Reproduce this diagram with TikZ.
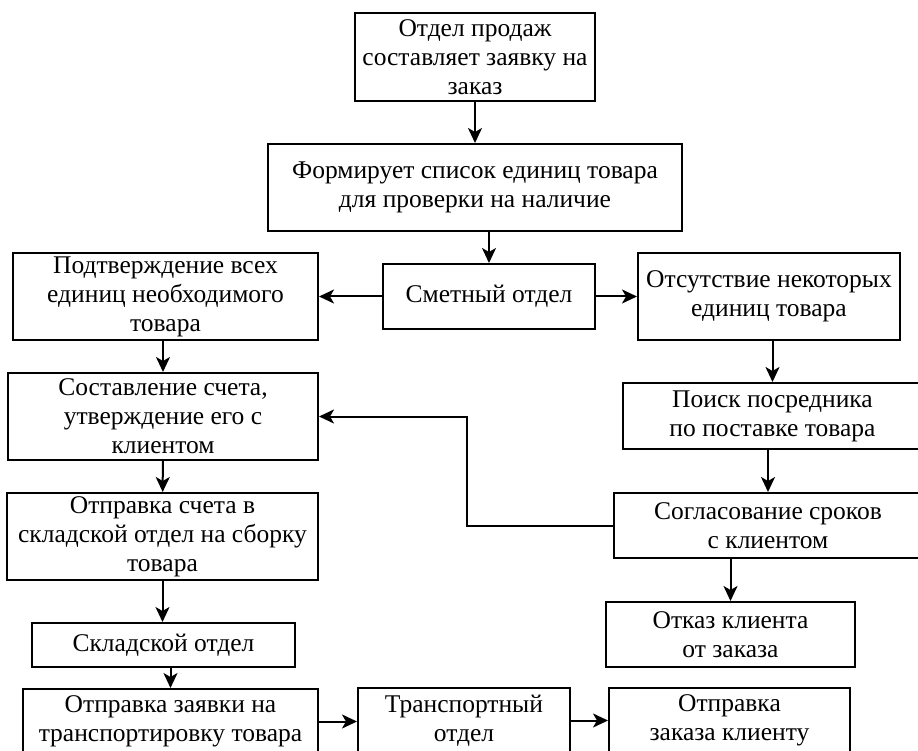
\documentclass[tikz,border=0pt]{standalone}
\usepackage{fontspec}
\setmainfont{Liberation Serif}
\usetikzlibrary{arrows.meta}

\begin{document}
\begin{tikzpicture}[x=1pt,y=-1pt,
  box/.style={draw, line width=2pt, rectangle, align=center, inner sep=0pt,
    font=\fontsize{25.5}{29}\selectfont},
  arr/.style={line width=2pt, -{Stealth[length=15pt,width=14pt,inset=4pt]}}]
  \useasboundingbox (0,0) rectangle (918,751);
  \clip (0,0) rectangle (918,751);
  % top of the chain
  \node[box, minimum width=240pt, minimum height=88pt] (zakaz) at (475,57) {Отдел продаж\\составляет заявку на\\заказ};
  \node[box, minimum width=414pt, minimum height=87pt] (spisok) at (475,187.5) {Формирует список единиц товара\\для проверки на наличие};
  \node[box, minimum width=212pt, minimum height=65pt] (smeta) at (489,296.5) {Сметный отдел};
  \node[box, minimum width=305pt, minimum height=87pt] (podtv) at (165.5,296.5) {Подтверждение всех\\единиц необходимого\\товара};
  \node[box, minimum width=262pt, minimum height=87pt] (otsut) at (769,296.5) {Отсутствие некоторых\\единиц товара};
  % left column
  \node[box, minimum width=310pt, minimum height=87pt] (schet) at (163,416.5) {Составление счета,\\утверждение его с\\клиентом};
  \node[box, minimum width=311pt, minimum height=87pt] (otpravka) at (162.5,536.5) {Отправка счета в\\складской отдел на сборку\\товара};
  \node[box, minimum width=263pt, minimum height=44pt] (sklad) at (163.5,645) {Складской отдел};
  \node[box, minimum width=295pt, minimum height=65pt] (zayavka) at (170.5,721.5) {Отправка заявки на\\транспортировку товара};
  % right column
  \node[box, minimum width=299pt, minimum height=66pt] (poisk) at (772.5,416) {Поиск посредника\\по поставке товара};
  \node[box, minimum width=308pt, minimum height=65pt] (soglas) at (768,525.5) {Согласование сроков\\с клиентом};
  \node[box, minimum width=249pt, minimum height=65pt] (otkaz) at (730.5,634.5) {Отказ клиента\\от заказа};
  % bottom row
  \node[box, minimum width=212pt, minimum height=65pt] (transport) at (464,720.5) {Транспортный\\отдел};
  \node[box, minimum width=241pt, minimum height=65pt] (klient) at (729.5,720.5) {Отправка\\заказа клиенту};

  \draw[arr] (zakaz) -- (spisok);
  \draw[arr] (smeta.north |- spisok.south) -- (smeta.north);
  \draw[arr] (smeta) -- (podtv);
  \draw[arr] (smeta) -- (otsut);
  \draw[arr] (poisk.north |- otsut.south) -- (poisk.north);
  \draw[arr] (soglas.north |- poisk.south) -- (soglas.north);
  \draw[arr] (otkaz.north |- soglas.south) -- (otkaz.north);
  \draw[arr] (soglas.west) -| ([xshift=148pt]schet.east) -- (schet.east);
  \draw[arr] (schet.north |- podtv.south) -- (schet.north);
  \draw[arr] (schet) -- (otpravka);
  \draw[arr] (otpravka.south) -- (otpravka.south |- sklad.north);
  \draw[arr] (zayavka.north |- sklad.south) -- (zayavka.north);
  \draw[arr] (zayavka.east) -- (transport.west |- zayavka.east);
  \draw[arr] (transport) -- (klient);
\end{tikzpicture}
\end{document}
